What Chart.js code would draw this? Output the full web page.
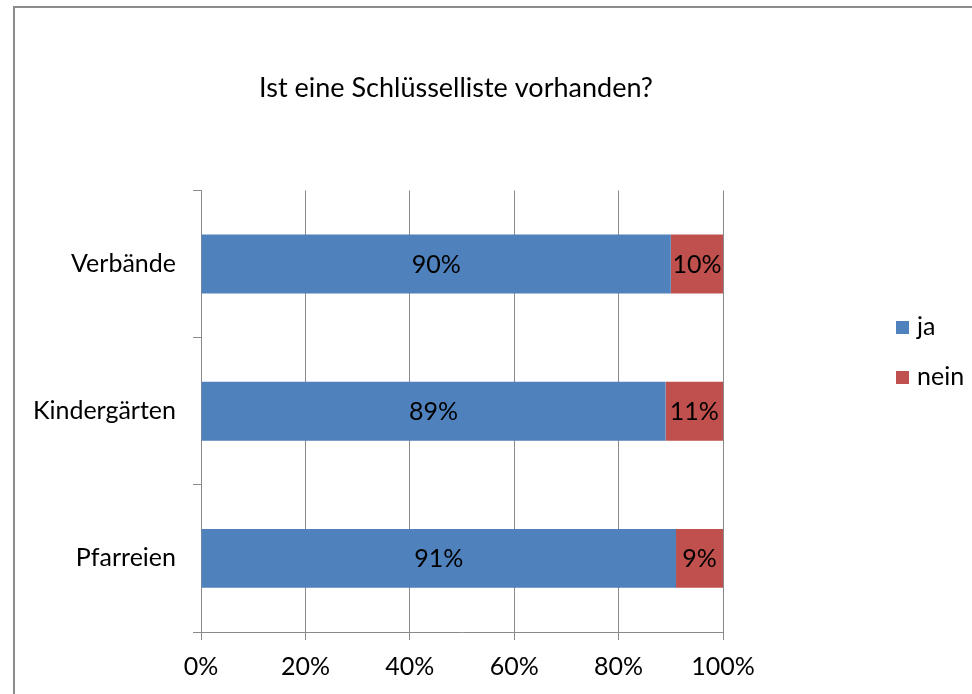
<!DOCTYPE html>
<html>
<head>
<meta charset="utf-8">
<script src="https://cdn.jsdelivr.net/npm/chart.js@4/dist/chart.umd.min.js"></script>
<style>
    body { margin: 0; background: #fff; overflow: hidden; }
    #wrap { position: relative; width: 972px; height: 694px; overflow: hidden; }
    /* the chart frame runs past the right and bottom edge of the crop */
    #frame { position: absolute; left: 13px; top: 6px; width: 1000px; height: 740px;
             border: 2px solid #8c8c8c; box-sizing: border-box; pointer-events: none; }
</style>
</head>
<body>
<div id="wrap">
    <canvas id="chart" width="972" height="694"></canvas>
    <div id="frame"></div>
</div>
<script>
const categories = ['Verbände', 'Kindergärten', 'Pfarreien']
const jaValues = [90, 89, 91]
const neinValues = [10, 11, 9]
const seriesNames = ['ja', 'nein']
const seriesColors = ['#4F81BD', '#C0504D']
const xTicks = [0, 20, 40, 60, 80, 100]

const fontFamily = 'Lato, "Open Sans", sans-serif'
const labelSize = 25
const gridColor = '#8a8a8a'

// percent labels in the middle of each bar segment
const segmentLabels = {
    id: 'segmentLabels',
    afterDatasetsDraw(chart) {
        const ctx = chart.ctx
        ctx.save()
        ctx.font = `${labelSize}px ${fontFamily}`
        ctx.fillStyle = '#000'
        ctx.textAlign = 'center'
        ctx.textBaseline = 'middle'
        chart.data.datasets.forEach((ds, i) => {
            chart.getDatasetMeta(i).data.forEach((bar, j) => {
                ctx.fillText(ds.data[j] + '%', (bar.x + bar.base) / 2, bar.y + 1)
            })
        })
        ctx.restore()
    }
}

// legend sits to the right, in the space kept free by the spacer axis
const sideLegend = {
    id: 'sideLegend',
    afterDraw(chart) {
        const ctx = chart.ctx
        ctx.save()
        ctx.font = `${labelSize}px ${fontFamily}`
        ctx.textBaseline = 'middle'
        chart.data.datasets.forEach((ds, i) => {
            const y = 327 + i * 50
            ctx.fillStyle = ds.backgroundColor
            ctx.fillRect(896, y - 6, 13, 13)
            ctx.fillStyle = '#000'
            ctx.fillText(ds.label, 917, y)
        })
        ctx.restore()
    }
}

new Chart(document.getElementById('chart'), {
    type: 'bar',
    data: {
        labels: categories,
        datasets: [
            { label: seriesNames[0], data: jaValues, backgroundColor: seriesColors[0] },
            { label: seriesNames[1], data: neinValues, backgroundColor: seriesColors[1] }
        ]
    },
    options: {
        indexAxis: 'y',
        responsive: false,
        animation: false,
        categoryPercentage: 1,
        barPercentage: 0.4,
        layout: { padding: { left: 0, right: 60, top: 0, bottom: 0 } },
        plugins: {
            legend: { display: false },
            tooltip: { enabled: false },
            title: {
                display: true,
                text: 'Ist eine Schlüsselliste vorhanden?',
                color: '#000',
                font: { family: fontFamily, size: 27, weight: 'normal', lineHeight: 1.2 },
                padding: { top: 72, bottom: 86 }
            }
        },
        scales: {
            x: {
                stacked: true,
                min: 0,
                max: 100,
                afterBuildTicks: (scale) => { scale.ticks = xTicks.map(v => ({ value: v })) },
                grid: { color: gridColor, lineWidth: 1, tickLength: 8 },
                border: { color: gridColor },
                ticks: {
                    color: '#000',
                    padding: 12,
                    maxRotation: 0,
                    font: { family: fontFamily, size: labelSize, lineHeight: 1.2 },
                    callback: (v) => v + '%'
                }
            },
            y: {
                stacked: true,
                afterFit: (scale) => { scale.width = 201 },
                grid: { color: gridColor, drawOnChartArea: false, offset: true, tickLength: 8 },
                border: { color: gridColor },
                ticks: {
                    color: '#000',
                    padding: 17,
                    font: { family: fontFamily, size: labelSize }
                }
            },
            // empty axis that only keeps room for the legend on the right
            spacer: {
                type: 'linear',
                position: 'right',
                afterFit: (scale) => { scale.width = 189 },
                grid: { display: false },
                border: { display: false },
                ticks: { display: false }
            }
        }
    },
    plugins: [segmentLabels, sideLegend]
})
</script>
</body>
</html>
